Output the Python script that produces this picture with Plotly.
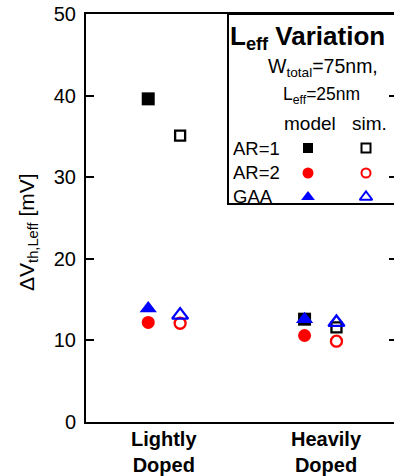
import plotly.graph_objects as go

# ---- data ----
categories = ["Lightly<br>Doped", "Heavily<br>Doped"]
cat_pos = [1.0, 2.0]
label_pos = [1.0, 2.04]
series_names = ["AR=1", "AR=2", "GAA"]
model_vals = {"AR=1": [39.6, 12.6], "AR=2": [12.2, 10.6], "GAA": [13.9, 12.6]}
sim_vals = {"AR=1": [35.1, 11.6], "AR=2": [12.1, 9.9], "GAA": [13.1, 12.2]}
y_ticks = [0, 10, 20, 30, 40, 50]

# ---- styles ----
colors = {"AR=1": "#000000", "AR=2": "#ff0000", "GAA": "#0000ff"}
sym_model = {"AR=1": "square", "AR=2": "circle", "GAA": "triangle-up"}
sym_sim = {"AR=1": "square-open", "AR=2": "circle-open", "GAA": "triangle-up-open"}
size_model = {"AR=1": 13, "AR=2": 13, "GAA": 15}
size_sim = {"AR=1": 10, "AR=2": 11, "GAA": 14}
offset = 0.102

W, H = 394, 476
L, T, B = 86, 14, 54
PW, PH = W - L, H - T - B
def px(x):
    return (x - L) / PW
def py(y):
    return (H - B - y) / PH

FONT = "Liberation Sans, Arial, sans-serif"
fig = go.Figure()

for name in series_names:
    fig.add_trace(go.Scatter(
        x=[p - offset for p in cat_pos], y=model_vals[name], mode="markers",
        marker=dict(symbol=sym_model[name], size=size_model[name], color=colors[name],
                    line=dict(width=0)),
        showlegend=False, cliponaxis=False, hoverinfo="skip"))
for name in series_names:
    fig.add_trace(go.Scatter(
        x=[p + offset for p in cat_pos], y=sim_vals[name], mode="markers",
        marker=dict(symbol=sym_sim[name], size=size_sim[name], color=colors[name],
                    line=dict(width=2.3, color=colors[name])),
        showlegend=False, cliponaxis=False, hoverinfo="skip"))

# legend key markers (in paper-like overlay axes)
leg_rows_y = [148, 173, 197]
for name, yy in zip(series_names, leg_rows_y):
    fig.add_trace(go.Scatter(
        x=[px(308)], y=[py(yy)], xaxis="x2", yaxis="y3", mode="markers",
        marker=dict(symbol=sym_model[name], size=(10 if name == "AR=1" else 11 if name == "AR=2" else 12),
                    color=colors[name], line=dict(width=0)),
        showlegend=False, cliponaxis=False, hoverinfo="skip"))
    fig.add_trace(go.Scatter(
        x=[px(366)], y=[py(yy)], xaxis="x2", yaxis="y3", mode="markers",
        marker=dict(symbol=sym_sim[name], size=(9 if name == "AR=1" else 9 if name == "AR=2" else 11),
                    color=colors[name], line=dict(width=2, color=colors[name])),
        showlegend=False, cliponaxis=False, hoverinfo="skip"))

fig.update_layout(
    width=W, height=H,
    margin=dict(l=L, r=0, t=T, b=B, pad=0, autoexpand=False),
    paper_bgcolor="white", plot_bgcolor="white",
    font=dict(family=FONT, color="black"),
    xaxis=dict(range=[0.5, 2.47], showticklabels=False, automargin=False,
               showgrid=False, zeroline=False, showline=True, linecolor="black",
               linewidth=2, mirror=True, ticks=""),
    yaxis=dict(range=[0, 50], tickvals=y_ticks, showgrid=False, zeroline=False,
               automargin=False,
               showline=True, linecolor="black", linewidth=2, mirror=False,
               ticks="inside", ticklen=8, tickwidth=1.5, tickcolor="black",
               tickfont=dict(size=20, family=FONT), ticklabelstandoff=4),
    yaxis2=dict(range=[0, 50], overlaying="y", side="right", tickvals=y_ticks[1:-1],
                showticklabels=False, ticks="inside", ticklen=5, tickwidth=1.5,
                tickcolor="black", showline=False, showgrid=False, zeroline=False),
    xaxis2=dict(range=[0, 1], overlaying="x", visible=False, anchor="y3"),
    yaxis3=dict(range=[0, 1], overlaying="y", visible=False, anchor="x2"),
)
# dummy trace to activate yaxis2
fig.add_trace(go.Scatter(x=[None], y=[None], yaxis="y2", showlegend=False))

# category labels
for lab, xp in zip(categories, label_pos):
    fig.add_annotation(text=lab, x=xp, xref="x", y=py(452), yref="paper",
                       xanchor="center", yanchor="middle", showarrow=False,
                       font=dict(size=20, family=FONT, color="black", weight="bold"))

# legend box
fig.add_shape(type="rect", xref="paper", yref="paper", x0=px(228), x1=px(400),
              y0=py(204), y1=py(14), line=dict(color="black", width=2), fillcolor="rgba(0,0,0,0)")

def ann(text, x, y, size, xanchor="left", bold=False):
    fig.add_annotation(text=text, x=px(x), y=py(y), xref="paper", yref="paper",
                       xanchor=xanchor, yanchor="middle", showarrow=False,
                       font=dict(size=size, family=FONT, color="black",
                                 weight="bold" if bold else "normal"))

ann("L<sub>eff</sub> Variation", 228, 37, 26, bold=True)
ann("W<sub>total</sub>=75nm,", 266, 67, 19.5)
ann("L<sub>eff</sub>=25nm", 281, 96, 17.5)
ann("model", 310, 123, 19, xanchor="center")
ann("sim.", 369, 123, 19, xanchor="center")
for name, yy in zip(series_names, leg_rows_y):
    ann(name, 231, yy, 18.5)

# y axis title
fig.add_annotation(text="\u0394V<sub>th,Leff</sub> [mV]", x=px(28), y=py(232), xref="paper",
                   yref="paper", textangle=-90, showarrow=False, xanchor="center",
                   yanchor="middle", font=dict(size=21, family=FONT, color="black"))

fig.write_html("out.html", config={"displayModeBar": False},
               post_script="document.body.style.margin='0';document.body.style.overflow='hidden';")
